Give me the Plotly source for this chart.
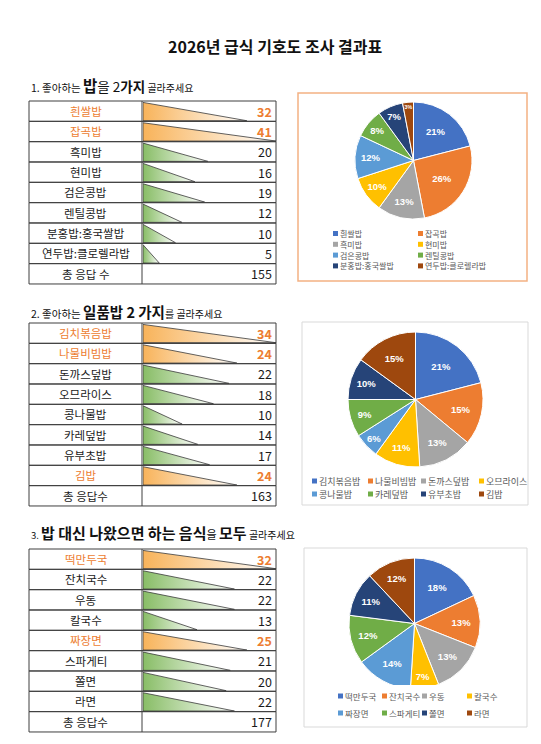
import plotly.graph_objects as go

W, H = 541, 744

# ---------------- data ----------------
TITLE = "2026년 급식 기호도 조사 결과표"

q1_labels = ["흰쌀밥", "잡곡밥", "흑미밥", "현미밥", "검은콩밥", "렌틸콩밥", "분홍밥:홍국쌀밥", "연두밥:클로렐라밥"]
q1_values = [32, 41, 20, 16, 19, 12, 10, 5]
q1_total = 155
q1_total_label = "총 응답 수"
q1_top = ["흰쌀밥", "잡곡밥"]
q1_pie_pct = [21, 26, 13, 10, 12, 8, 7, 3]

q2_labels = ["김치볶음밥", "나물비빔밥", "돈까스덮밥", "오므라이스", "콩나물밥", "카레덮밥", "유부초밥", "김밥"]
q2_values = [34, 24, 22, 18, 10, 14, 17, 24]
q2_total = 163
q2_total_label = "총 응답수"
q2_top = ["김치볶음밥", "나물비빔밥", "김밥"]
q2_pie_pct = [21, 15, 13, 11, 6, 9, 10, 15]

q3_labels = ["떡만두국", "잔치국수", "우동", "칼국수", "짜장면", "스파게티", "쫄면", "라면"]
q3_values = [32, 22, 22, 13, 25, 21, 20, 22]
q3_total = 177
q3_total_label = "총 응답수"
q3_top = ["떡만두국", "짜장면"]
q3_pie_pct = [18, 13, 13, 7, 14, 12, 11, 12]

# ---------------- style / layout ----------------
FONT = "Noto Sans CJK KR"
ORANGE_TXT = "#ED7D31"
BAR_ORANGE = "#F8B35A"
BAR_GREEN = "#88BD66"
GRID = "#3F3F3F"
PIE_COLORS = ["#4472C4", "#ED7D31", "#A5A5A5", "#FFC000", "#5B9BD5", "#70AD47", "#264478", "#9E480E"]

def px(x):
    return x / W

def py(y):
    return 1 - y / H

TBL_L, TBL_D, TBL_R = 29, 142, 276
BAR_L = 143
ROW_H = 20.33

headings = [
    ('<span style="font-size:10.5px">1. 좋아하는 </span><b><span style="font-size:15.5px">밥</span></b>'
     '<span style="font-size:13.5px">을 2</span><b><span style="font-size:13.5px">가지</span></b>'
     '<span style="font-size:10px"> 골라주세요</span>', 85),
    ('<span style="font-size:10.5px">2. 좋아하는 </span><b><span style="font-size:14.5px">일품밥 2 가지</span></b>'
     '<span style="font-size:10px">를 골라주세요</span>', 311),
    ('<span style="font-size:9.5px">3. </span><b><span style="font-size:15px">밥 대신 나왔으면 하는 음식</span></b>'
     '<span style="font-size:11px">을 </span><b><span style="font-size:15px">모두</span></b>'
     '<span style="font-size:10px"> 골라주세요</span>', 532),
]

tables = [
    dict(labels=q1_labels, values=q1_values, total=q1_total, total_label=q1_total_label, top=q1_top, y0=101),
    dict(labels=q2_labels, values=q2_values, total=q2_total, total_label=q2_total_label, top=q2_top, y0=323),
    dict(labels=q3_labels, values=q3_values, total=q3_total, total_label=q3_total_label, top=q3_top, y0=549),
]

pies = [
    dict(labels=q1_labels, pct=q1_pie_pct, cx=413.5, cy=160.5, r=58.5,
         box=(298, 93, 527, 281), box_color="#F4B183", box_w=1.5,
         leg_cols=[333, 418], leg_rows=[233.5, 244.3, 255.1, 265.9], ncol=2, leg_size=8),
    dict(labels=q2_labels, pct=q2_pie_pct, cx=415.5, cy=399.5, r=67.5,
         box=(302, 322, 528, 505), box_color="#D9D9D9", box_w=1,
         leg_cols=[312, 368, 421, 479], leg_rows=[481, 494], ncol=4, leg_size=9),
    dict(labels=q3_labels, pct=q3_pie_pct, cx=414.5, cy=623.5, r=65.5,
         box=(304, 548, 527, 727), box_color="#D9D9D9", box_w=1,
         leg_cols=[338, 382, 422, 467], leg_rows=[696, 713], ncol=4, leg_size=8.5,
         leg_bg=(333, 685, 508, 723)),
]

fig = go.Figure()
shapes = []
annotations = []

# title
annotations.append(dict(text="<b>" + TITLE + "</b>", x=px(275), y=py(46), xref="paper", yref="paper",
                        xanchor="center", yanchor="middle", showarrow=False,
                        font=dict(family=FONT, size=16, color="#111111")))

for text, yh in headings:
    annotations.append(dict(text=text, x=px(29), y=py(yh), xref="paper", yref="paper",
                            xanchor="left", yanchor="middle", showarrow=False,
                            font=dict(family=FONT, size=12, color="#111111")))

layout_axes = {}
for k, t in enumerate(tables):
    n = len(t["labels"]) + 1
    y0 = t["y0"]
    y1 = y0 + n * ROW_H
    ax = "" if k == 0 else str(k + 1)
    vmax = max(t["values"])
    layout_axes["xaxis" + ax] = dict(domain=[px(BAR_L), px(TBL_R)], range=[0, vmax], visible=False,
                                     anchor="y" + ax, fixedrange=True)
    layout_axes["yaxis" + ax] = dict(domain=[py(y1), py(y0)], range=[n, 0], visible=False,
                                     anchor="x" + ax, fixedrange=True)
    # triangles (data bars)
    for i, (lab, v) in enumerate(zip(t["labels"], t["values"])):
        c = BAR_ORANGE if lab in t["top"] else BAR_GREEN
        fig.add_trace(go.Scatter(
            x=[0, 0, v, 0], y=[i + 0.07, i + 0.97, i + 0.97, i + 0.07],
            xaxis="x" + ax, yaxis="y" + ax, mode="lines", fill="toself",
            line=dict(color="#3A3A3A", width=0.8),
            fillgradient=dict(type="horizontal", colorscale=[[0, c], [1, "rgba(255,255,255,1)"]]),
            showlegend=False, hoverinfo="skip"))
    # grid
    for i in range(n):
        ya = y0 + i * ROW_H
        shapes.append(dict(type="rect", xref="paper", yref="paper", x0=px(TBL_L), x1=px(TBL_R),
                           y0=py(ya), y1=py(ya + ROW_H), line=dict(color=GRID, width=1), layer="above"))
    shapes.append(dict(type="line", xref="paper", yref="paper", x0=px(TBL_D), x1=px(TBL_D),
                       y0=py(y0), y1=py(y1), line=dict(color=GRID, width=1), layer="above"))
    # text
    rows = list(zip(t["labels"], t["values"])) + [(t["total_label"], t["total"])]
    for i, (lab, v) in enumerate(rows):
        yc = y0 + (i + 0.5) * ROW_H
        hl = lab in t["top"]
        annotations.append(dict(text=lab, x=px((TBL_L + TBL_D) / 2), y=py(yc), xref="paper", yref="paper",
                                xanchor="center", yanchor="middle", showarrow=False,
                                font=dict(family=FONT, size=11.5, color=ORANGE_TXT if hl else "#1A1A1A")))
        annotations.append(dict(text=("<b>%d</b>" % v) if hl else str(v), x=px(TBL_R - 2), y=py(yc),
                                xref="paper", yref="paper", xanchor="right", yanchor="middle",
                                showarrow=False,
                                font=dict(family=FONT, size=12.5, color=ORANGE_TXT if hl else "#1A1A1A")))

for p in pies:
    bx0, by0, bx1, by1 = p["box"]
    shapes.append(dict(type="rect", xref="paper", yref="paper", x0=px(bx0), x1=px(bx1),
                       y0=py(by0), y1=py(by1), line=dict(color=p["box_color"], width=p["box_w"]),
                       fillcolor="white", layer="below"))
    fig.add_trace(go.Pie(
        labels=p["labels"], values=p["pct"], sort=False, direction="clockwise", rotation=0,
        domain=dict(x=[px(p["cx"] - p["r"]), px(p["cx"] + p["r"])],
                    y=[py(p["cy"] + p["r"]), py(p["cy"] - p["r"])]),
        marker=dict(colors=PIE_COLORS, line=dict(color="white", width=1)),
        texttemplate="<b>%{value}%</b>", textposition="inside", insidetextorientation="horizontal",
        textfont=dict(family="Liberation Sans", size=9.5, color="white"),
        showlegend=False, hoverinfo="skip"))
    if "leg_bg" in p:
        lx0, ly0, lx1, ly1 = p["leg_bg"]
        shapes.append(dict(type="rect", xref="paper", yref="paper", x0=px(lx0), x1=px(lx1),
                           y0=py(ly0), y1=py(ly1), line=dict(width=0), fillcolor="white", layer="above"))
    for i, lab in enumerate(p["labels"]):
        cxl = p["leg_cols"][i % p["ncol"]]
        cyl = p["leg_rows"][i // p["ncol"]]
        shapes.append(dict(type="rect", xref="paper", yref="paper", x0=px(cxl), x1=px(cxl + 5),
                           y0=py(cyl + 2.5), y1=py(cyl - 2.5), line=dict(width=0),
                           fillcolor=PIE_COLORS[i], layer="above"))
        annotations.append(dict(text=lab, x=px(cxl + 6), y=py(cyl), xref="paper", yref="paper",
                                xanchor="left", yanchor="middle", showarrow=False, borderpad=0,
                                font=dict(family=FONT, size=p["leg_size"], color="#595959")))

fig.update_layout(
    width=W, height=H, margin=dict(l=0, r=0, t=0, b=0),
    paper_bgcolor="white", plot_bgcolor="rgba(0,0,0,0)",
    shapes=shapes, annotations=annotations, showlegend=False,
    **layout_axes,
)

fig.write_html("out.html", config={"displayModeBar": False, "staticPlot": True},
               post_script="document.body.style.margin='0px';document.body.style.overflow='hidden';")
